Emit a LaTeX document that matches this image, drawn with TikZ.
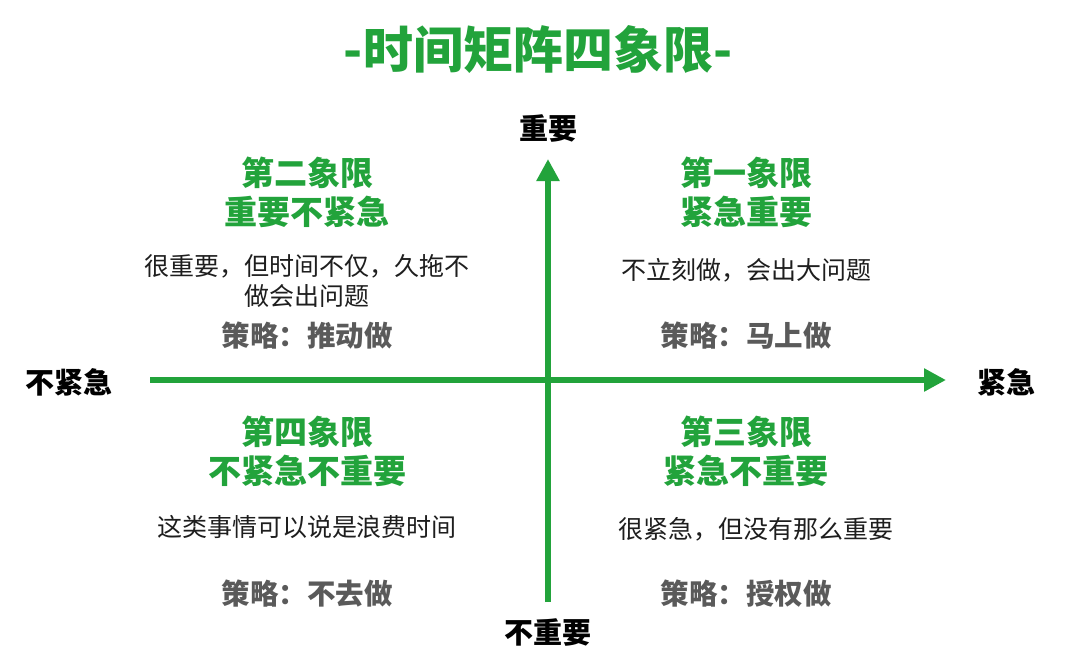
\documentclass[tikz,border=0pt]{standalone}
\usepackage{fontspec}
\setmainfont{Noto Sans CJK SC}
\usetikzlibrary{arrows.meta}
\definecolor{matrixgreen}{RGB}{34,163,59}
\definecolor{plangray}{RGB}{90,90,90}
\definecolor{bodyblack}{RGB}{30,30,30}

\begin{document}
\begin{tikzpicture}[x = 1pt, y = -1pt,
	axis/.style = {matrixgreen, line width = 6pt, -{Triangle[width = 22pt, length = 22pt]}},
	axislabel/.style = {font = \bfseries\fontsize{29}{32}\selectfont, text = black},
	quadtitle/.style = {font = \bfseries\fontsize{33}{39}\selectfont, text = matrixgreen, align = center},
	remark/.style = {font = \fontsize{25}{30}\selectfont, text = bodyblack, align = center},
	plan/.style = {font = \bfseries\fontsize{28.5}{32}\selectfont, text = plangray}]

	% Canvas

	\useasboundingbox (0, 0) rectangle (1080, 664);
	\fill [white] (0, 0) rectangle (1080, 664);

	% Definitions

	\def\xL{307}	% Centre of left quadrants
	\def\xR{746}	% Centre of right quadrants

	% Title

	\node [font = \bfseries\fontsize{50}{54}\selectfont, text = matrixgreen] (title) at (538, 50) {-时间矩阵四象限-};

	% Axes

	\coordinate (west) at (150, 380);
	\coordinate (east) at (946, 380);
	\coordinate (south) at (548, 602);
	\coordinate (north) at (548, 159);

	\draw [axis] (west) -- (east);
	\draw [axis] (south) -- (north);

	% Labels for axes

	\node [axislabel] (important) at (548, 128) {重要};
	\node [axislabel] (unimportant) at (548, 632) {不重要};
	\node [axislabel] (noturgent) at (69, 382) {不紧急};
	\node [axislabel] (urgent) at (1006, 382) {紧急};

	% Quadrant II

	\node [quadtitle] (q2) at (\xL, 192) {第二象限\\重要不紧急};
	\node [remark] (q2text) at (\xL, 281) {很重要，但时间不仅，久拖不\\做会出问题};
	\node [plan] (q2plan) at (\xL, 336) {策略：推动做};

	% Quadrant I

	\node [quadtitle] (q1) at (\xR, 192) {第一象限\\紧急重要};
	\node [remark] (q1text) at (\xR, 270) {不立刻做，会出大问题};
	\node [plan] (q1plan) at (\xR, 336) {策略：马上做};

	% Quadrant IV

	\node [quadtitle] (q4) at (\xL, 451) {第四象限\\不紧急不重要};
	\node [remark] (q4text) at (\xL, 527) {这类事情可以说是浪费时间};
	\node [plan] (q4plan) at (\xL, 594) {策略：不去做};

	% Quadrant III

	\node [quadtitle] (q3) at (\xR, 451) {第三象限\\紧急不重要};
	\node [remark] (q3text) at (756, 529) {很紧急，但没有那么重要};
	\node [plan] (q3plan) at (\xR, 594) {策略：授权做};

\end{tikzpicture}
\end{document}
